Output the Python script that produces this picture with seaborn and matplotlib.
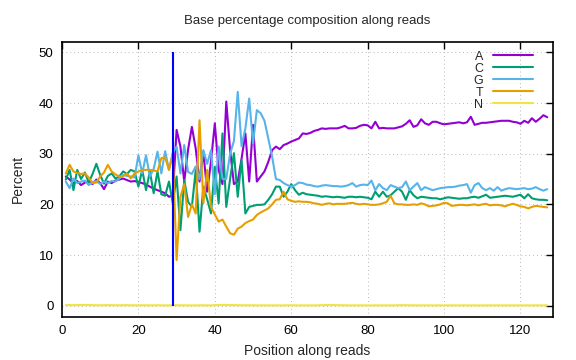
import numpy as np
import pandas as pd
import matplotlib
matplotlib.use("Agg")
import matplotlib.pyplot as plt
import seaborn as sns

# Position along reads (1..127)
positions = list(range(1, 128))

base_a = [
    25.5, 24.9, 24.2, 24.6, 23.8, 24.3, 24.6, 24.0, 24.9,
    24.2, 23.0, 24.5, 24.2, 24.7, 24.9, 25.1, 24.8, 24.5, 24.6,
    24.4, 24.2, 23.9, 23.5, 23.1, 22.8, 22.5, 22.2, 21.5, 21.8,
    34.7, 31.4, 24.5, 30.8, 35.3, 31.0, 24.5, 30.4, 22.5, 28.5,
    36.0, 26.8, 24.0, 40.3, 30.7, 24.0, 24.5, 29.0, 34.0, 24.5,
    35.7, 24.5, 25.5, 26.5, 28.4, 30.7, 31.4, 30.9, 31.7, 32.0,
    32.4, 32.7, 33.0, 34.0, 33.9, 34.1, 34.5, 34.7, 35.0, 34.9,
    35.0, 35.0, 35.0, 35.2, 35.5, 35.0, 35.0, 35.1, 35.5,
    35.7, 35.6, 35.0, 36.3, 35.0, 35.1, 35.0, 35.0, 35.0, 35.2,
    35.4, 35.9, 36.6, 35.3, 35.6, 36.8, 36.0, 35.7, 36.3, 36.3,
    36.0, 35.8, 35.9, 36.0, 36.1, 36.2, 36.0, 36.2, 37.3, 35.7,
    35.9, 36.1, 36.1, 36.2, 36.3, 36.4, 36.5, 36.5, 36.5,
    36.3, 36.2, 35.9, 36.5, 36.1, 37.0, 36.3, 36.9, 37.6, 37.2,
]

base_c = [
    24.9, 26.8, 22.8, 26.8, 25.0, 26.3, 24.3, 26.0, 28.0,
    25.8, 24.1, 25.6, 26.1, 25.1, 25.5, 26.5, 26.0, 26.8, 26.5,
    23.5, 26.8, 22.8, 26.5, 22.2, 26.5, 22.0, 21.7, 24.5, 20.2,
    25.5, 14.9, 24.8, 20.5, 19.5, 26.8, 14.6, 23.5, 21.0, 18.2,
    27.4, 20.2, 34.0, 19.5, 25.0, 30.1, 21.5, 28.8, 18.2, 19.5,
    19.7, 19.9, 19.9, 20.0, 20.9, 22.0, 23.5, 23.5, 21.5, 22.5,
    24.0, 22.8, 21.9, 22.3, 22.0, 21.9, 21.8, 21.7, 21.5, 21.6,
    21.5, 21.4, 21.5, 21.4, 21.3, 21.5, 21.5, 21.4, 21.5,
    21.4, 21.3, 21.0, 22.5, 21.5, 22.5, 21.5, 21.8, 22.5, 23.2,
    22.5, 20.9, 22.8, 21.8, 21.2, 21.5, 21.4, 21.3, 21.2, 21.2,
    21.0, 21.2, 21.4, 21.3, 21.2, 21.1, 21.2, 21.2, 21.4, 21.5,
    21.3, 21.6, 21.9, 21.3, 21.4, 21.5, 21.6, 21.7, 21.6,
    21.5, 21.7, 21.9, 21.2, 22.0, 21.2, 21.0, 20.9, 20.9, 20.8,
]

base_g = [
    24.5, 23.2, 25.1, 24.2, 24.5, 24.7, 23.8, 24.4, 24.6,
    24.0, 24.5, 24.2, 24.6, 24.5, 25.1, 25.8, 25.6, 25.5, 25.3,
    29.7, 26.1, 29.7, 25.5, 27.0, 30.4, 26.1, 30.5, 26.8, 30.2,
    31.4, 26.1, 31.7, 26.4, 26.0, 27.5, 25.0, 30.7, 28.0, 30.7,
    22.0, 31.4, 25.0, 25.0, 30.0, 32.5, 42.2, 31.5, 35.0, 40.9,
    32.0, 38.6, 38.0, 36.5, 33.0, 29.4, 25.0, 24.8, 24.2, 23.8,
    23.5, 23.8, 24.3, 24.2, 23.9, 23.8, 23.6, 23.5, 23.7, 23.8,
    23.7, 23.6, 23.6, 23.5, 23.6, 23.8, 24.2, 23.5, 23.8,
    23.9, 23.8, 24.7, 22.8, 24.0, 23.2, 22.8, 23.8, 23.5, 23.2,
    23.4, 24.5, 22.8, 23.5, 24.2, 22.8, 23.4, 23.1, 22.8, 23.0,
    23.2, 23.3, 23.4, 23.4, 23.5, 23.7, 23.8, 24.0, 22.3, 23.8,
    24.2, 23.2, 22.8, 23.2, 22.7, 23.4, 22.7, 23.0, 23.2,
    23.1, 23.0, 23.1, 23.2, 23.0, 23.1, 23.4, 23.0, 22.7, 23.0,
]

base_t = [
    26.1, 27.8, 26.5, 26.2, 26.0, 26.1, 25.3, 24.2, 24.3,
    25.5, 26.3, 27.8, 26.5, 25.9, 25.5, 25.6, 26.1, 25.1, 26.1,
    26.5, 26.8, 26.8, 26.8, 26.7, 26.5, 29.1, 29.3, 26.8, 30.0,
    9.0, 21.5, 24.0, 17.5, 20.0, 18.2, 36.6, 20.2, 26.8, 19.5,
    18.0, 16.6, 17.0, 15.6, 14.3, 14.0, 15.2, 15.6, 16.3, 16.7,
    17.0, 17.9, 18.4, 18.8, 19.2, 20.0, 20.9, 21.0, 22.5, 21.0,
    20.7, 20.5, 20.6, 20.5, 20.5, 20.4, 20.2, 20.1, 19.9, 20.1,
    20.2, 20.0, 20.1, 20.1, 20.1, 20.2, 20.3, 20.1, 20.0,
    20.1, 20.0, 19.9, 19.9, 20.0, 20.2, 20.5, 21.7, 20.2, 20.0,
    20.0, 19.9, 19.9, 20.0, 19.9, 20.2, 20.0, 19.6, 19.7, 19.8,
    20.0, 20.3, 20.2, 19.7, 19.8, 19.9, 19.9, 19.8, 19.9, 20.0,
    19.8, 20.0, 20.1, 19.8, 19.9, 19.9, 19.8, 19.6, 19.9,
    20.1, 19.9, 19.6, 19.5, 19.2, 19.5, 19.7, 19.6, 19.5, 19.4,
]

base_n = [
    0.10, 0.12, 0.10, 0.11, 0.13, 0.15, 0.12, 0.10, 0.09,
    0.08, 0.10, 0.10, 0.09, 0.08, 0.08, 0.09, 0.10, 0.08, 0.07,
    0.07, 0.08, 0.07, 0.06, 0.07, 0.08, 0.07, 0.06, 0.06, 0.07,
    0.08, 0.07, 0.06, 0.06, 0.05, 0.06, 0.06, 0.07, 0.06, 0.06,
    0.10, 0.12, 0.15, 0.14, 0.12, 0.10, 0.09, 0.08, 0.08, 0.07,
    0.07, 0.06, 0.06, 0.07, 0.06, 0.06, 0.05, 0.06, 0.06, 0.07,
    0.06, 0.06, 0.05, 0.06, 0.06, 0.05, 0.06, 0.07, 0.09, 0.12,
    0.14, 0.12, 0.10, 0.09, 0.07, 0.06, 0.06, 0.05, 0.06,
    0.06, 0.05, 0.05, 0.06, 0.05, 0.06, 0.06, 0.05, 0.06, 0.08,
    0.10, 0.09, 0.07, 0.06, 0.06, 0.05, 0.06, 0.06, 0.05, 0.05,
    0.06, 0.05, 0.06, 0.07, 0.06, 0.05, 0.06, 0.05, 0.05, 0.06,
    0.05, 0.05, 0.05, 0.06, 0.05, 0.06, 0.06, 0.05, 0.05,
    0.06, 0.05, 0.05, 0.06, 0.05, 0.05, 0.06, 0.05, 0.05, 0.06,
]

bases = ["A", "C", "G", "T", "N"]
colors = ["#9400d3", "#009e73", "#56b4e9", "#e69f00", "#f0e442"]
cut_position = 29
cut_top = 50

df = pd.DataFrame({"pos": positions, "A": base_a, "C": base_c,
                   "G": base_g, "T": base_t, "N": base_n})
long_df = df.melt(id_vars="pos", var_name="base", value_name="pct")

sns.set_theme(style="white")
plt.rcParams["font.family"] = ["Liberation Sans", "DejaVu Sans"]
plt.rcParams["font.size"] = 9

fig, ax = plt.subplots(figsize=(5.76, 3.6), dpi=100)
fig.subplots_adjust(left=0.1076, right=0.960, top=0.884, bottom=0.12)

sns.lineplot(data=long_df, x="pos", y="pct", hue="base", hue_order=bases,
             palette=colors, linewidth=1.5, ax=ax, legend=True)

# vertical marker line
ax.vlines(cut_position, 0, cut_top, color="#0000ff", linewidth=1.5, zorder=5)

ax.set_xlim(0, 128.5)
ax.set_ylim(-2.2, 52.1)
ax.set_xticks(range(0, 121, 20))
ax.set_yticks(range(0, 51, 10))
ax.grid(True, color="#b8b8b8", linestyle=(0, (1, 3)), linewidth=0.7)
ax.tick_params(direction="in", length=5, width=1, top=True, right=True,
               labelsize=9.5, colors="black", pad=6)
for s in ax.spines.values():
    s.set_color("black")
    s.set_linewidth(1.2)

ax.set_title("Base percentage composition along reads", fontsize=9.5, pad=13)
ax.set_xlabel("Position along reads", fontsize=10, labelpad=5)
ax.set_ylabel("Percent", fontsize=10, labelpad=10)

leg = ax.legend(loc="upper right", frameon=False, markerfirst=False,
                handlelength=3.2, handletextpad=0.8, labelspacing=0.0,
                fontsize=9, borderaxespad=0.3, bbox_to_anchor=(0.977, 1.0))
for line in leg.get_lines():
    line.set_linewidth(1.5)

fig.savefig("out.png", dpi=100)
